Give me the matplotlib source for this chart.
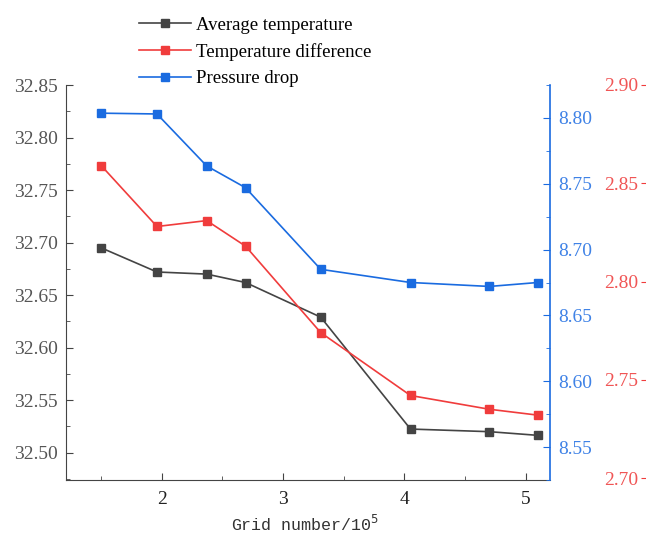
import matplotlib
matplotlib.use("Agg")
import matplotlib.pyplot as plt
from matplotlib.ticker import MultipleLocator, FormatStrFormatter

# data
grid = [1.5, 1.96, 2.37, 2.69, 3.31, 4.05, 4.70, 5.10]
avg_temp = [32.695, 32.672, 32.670, 32.662, 32.629, 32.5225, 32.520, 32.5165]
temp_diff = [2.859, 2.828, 2.831, 2.818, 2.774, 2.742, 2.735, 2.732]
press_drop = [8.8036, 8.803, 8.7635, 8.747, 8.685, 8.675, 8.672, 8.675]

c_black = "#444444"
c_red = "#f03c3c"
c_blue = "#1a6be0"
c_red_txt = "#f05555"
c_blue_txt = "#3f82e6"

plt.rcParams["font.family"] = ["Liberation Serif", "DejaVu Serif"]
plt.rcParams["font.size"] = 14

fig = plt.figure(figsize=(6.46, 5.43), dpi=100)
ax = fig.add_axes([66 / 646, 1 - 480 / 543, 484 / 646, 395 / 543])
ax2 = ax.twinx()
ax3 = ax.twinx()

l1, = ax.plot(grid, avg_temp, color=c_black, marker="s", ms=6, lw=1.2,
              label="Average temperature")
l2, = ax3.plot(grid, temp_diff, color=c_red, marker="s", ms=6, lw=1.2,
               label="Temperature difference")
l3, = ax2.plot(grid, press_drop, color=c_blue, marker="s", ms=6, lw=1.2,
               label="Pressure drop")

ax.set_xlim(1.21, 5.2)
ax.set_ylim(32.474, 32.85)
ax2.set_ylim(8.525, 8.825)
ax3.set_ylim(2.699, 2.90)

ax.xaxis.set_major_locator(MultipleLocator(1))
ax.xaxis.set_minor_locator(MultipleLocator(0.5))
ax.yaxis.set_major_locator(MultipleLocator(0.05))
ax.yaxis.set_minor_locator(MultipleLocator(0.025))
ax.yaxis.set_major_formatter(FormatStrFormatter("%.2f"))
ax2.yaxis.set_major_locator(MultipleLocator(0.05))
ax2.yaxis.set_minor_locator(MultipleLocator(0.025))
ax2.yaxis.set_major_formatter(FormatStrFormatter("%.2f"))
ax3.yaxis.set_major_locator(MultipleLocator(0.05))
ax3.yaxis.set_major_formatter(FormatStrFormatter("%.2f"))

# main axis
ax.spines["top"].set_visible(False)
ax.spines["right"].set_visible(False)
ax.spines["left"].set_color(c_black)
ax.spines["bottom"].set_color(c_black)
ax.tick_params(axis="both", which="both", direction="in", color=c_black)
ax.tick_params(axis="both", which="major", length=5)
ax.tick_params(axis="both", which="minor", length=3)
ax.tick_params(axis="y", labelcolor="#555555", pad=6)
ax.tick_params(axis="x", labelcolor="#222222", pad=8)

# blue axis
for s in ["top", "left", "bottom"]:
    ax2.spines[s].set_visible(False)
ax2.spines["right"].set_color(c_blue)
ax2.spines["right"].set_linewidth(1.2)
ax2.tick_params(axis="y", which="both", direction="in", color=c_blue,
                labelcolor=c_blue_txt)
ax2.tick_params(axis="y", which="major", length=5, pad=6)
ax2.tick_params(axis="y", which="minor", length=3)

# red axis, its spine sits right at the image edge, labels on its left
for s in ["top", "right", "bottom"]:
    ax3.spines[s].set_visible(False)
ax3.spines["left"].set_visible(True)
ax3.spines["left"].set_position(("axes", 1.2))
ax3.spines["left"].set_color(c_red)
ax3.yaxis.set_ticks_position("left")
ax3.yaxis.set_label_position("left")
ax3.tick_params(axis="y", direction="out", length=4, color=c_red,
                labelcolor=c_red_txt, pad=2)

ax.set_xlabel("Grid number/10$^5$", family=["Liberation Mono"], fontsize=12,
              color="#333333", va="center")
ax.xaxis.set_label_coords(0.494, -0.112)

fig.legend(handles=[l1, l2, l3], loc="upper left",
           bbox_to_anchor=(131 / 646, 1 - 9 / 543), frameon=False,
           handlelength=2.8, handletextpad=0.25, labelspacing=0.5,
           fontsize=13.5, borderaxespad=0)

fig.savefig("out.png", dpi=100)
